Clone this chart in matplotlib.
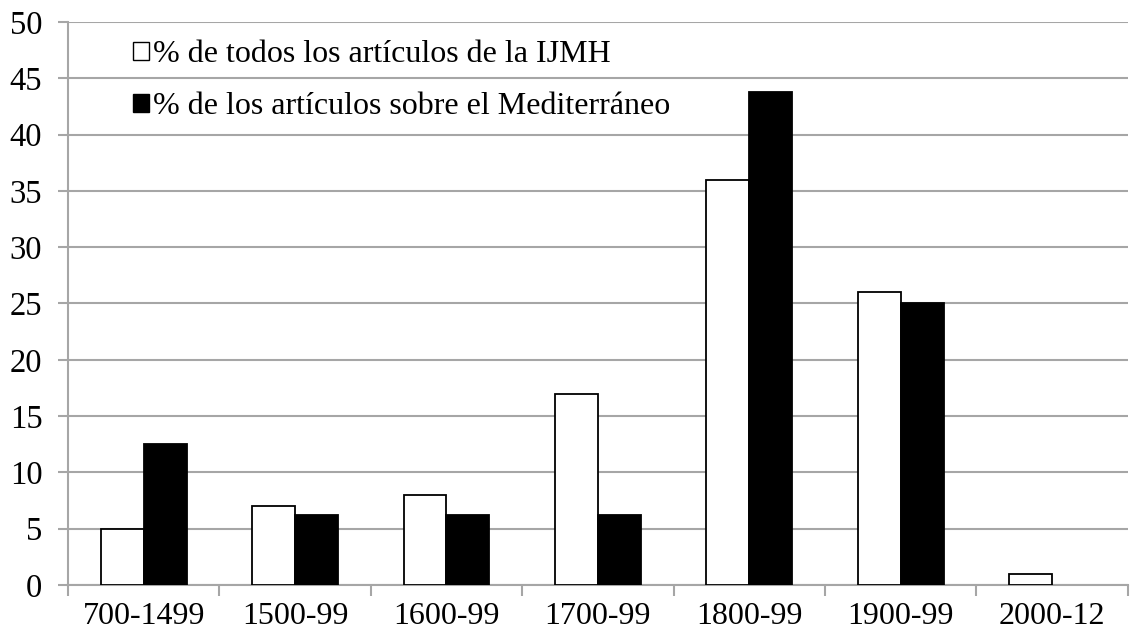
import matplotlib
matplotlib.use("Agg")
import matplotlib.pyplot as plt
import numpy as np
from matplotlib.patches import Patch

categories = ["700-1499", "1500-99", "1600-99", "1700-99", "1800-99", "1900-99", "2000-12"]
todos = [5, 7, 8, 17, 36, 26, 1]
mediterraneo = [12.5, 6.25, 6.25, 6.25, 43.75, 25, 0]
labels = ["% de todos los artículos de la IJMH", "% de los artículos sobre el Mediterráneo"]

plt.rcParams['font.family'] = ['Liberation Serif', 'DejaVu Serif']
fig = plt.figure(figsize=(11.3, 6.36), dpi=100)
ax = fig.add_axes([0.0602, 0.0802, 0.9378, 0.8852])

grid_c = "#a6a6a6"
x = np.arange(len(categories))
w = 0.283
ax.bar(x - w/2, todos, w, color="white", edgecolor="black",
       linewidth=[1.3 if v > 0 else 0 for v in todos], zorder=3)
ax.bar(x + w/2, mediterraneo, w, color="black", edgecolor="black",
       linewidth=[1.3 if v > 0 else 0 for v in mediterraneo], zorder=3)

ax.set_xlim(-0.5, len(categories) - 0.5)
ax.set_ylim(0, 50)
ax.set_yticks(np.arange(0, 51, 5))
ax.yaxis.grid(True, color=grid_c, linewidth=1.5, zorder=0)
ax.set_axisbelow(True)

ax.set_xticks(x)
ax.set_xticklabels(categories)
ax.set_xticks(np.arange(-0.5, len(categories)), minor=True)
ax.tick_params(axis='x', which='major', length=0, pad=12, labelsize=23)
ax.tick_params(axis='x', which='minor', length=8, width=1.5, color=grid_c)
ax.tick_params(axis='y', length=7, width=1.5, color=grid_c, labelsize=23.5, pad=11.5)

for s in ["top", "right"]:
    ax.spines[s].set_visible(False)
ax.spines["left"].set_color(grid_c)
ax.spines["left"].set_linewidth(1.5)
ax.spines["bottom"].set_color(grid_c)
ax.spines["bottom"].set_linewidth(1.5)

handles = [Patch(facecolor="white", edgecolor="black", linewidth=1.0),
           Patch(facecolor="black", edgecolor="black", linewidth=1.0)]
ax.legend(handles, labels, loc="upper left", bbox_to_anchor=(0.049, 0.99),
          frameon=False, fontsize=23, handlelength=0.5, handleheight=0.5,
          handletextpad=0.15, labelspacing=0.72, borderaxespad=0)

fig.savefig("out.png", dpi=100)
